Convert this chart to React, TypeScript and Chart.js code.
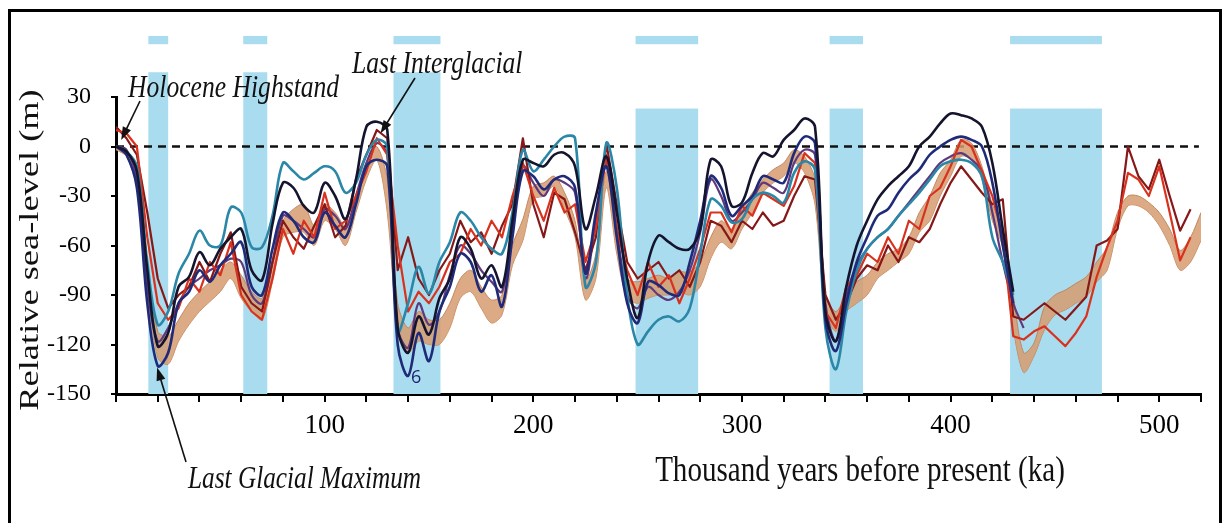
import React, { useEffect, useRef } from "react";
import { Chart, registerables } from "chart.js";
Chart.register(...registerables);

// Age grid (ka)
const AGES = [
  0, 5, 10, 15, 20, 25, 30, 35, 40, 45,
  50, 55, 60, 65, 70, 75, 80, 85, 90, 95,
  100, 105, 110, 115, 120, 125, 130, 135, 140, 145,
  150, 155, 160, 165, 170, 175, 180, 185, 190, 195,
  200, 205, 210, 215, 220, 225, 230, 235, 240, 245,
  250, 255, 260, 265, 270, 275, 280, 285, 290, 295,
  300, 305, 310, 315, 320, 325, 330, 335, 340, 345,
  350, 355, 360, 365, 370, 375, 380, 385, 390, 395,
  400, 405, 410, 415, 420, 425, 430, 435, 440, 445,
  450, 455, 460, 465, 470, 475, 480, 485, 490, 495,
  500, 505, 510, 515, 520,
];

const N = null;

const BLACK_SERIES = [
  0, -3, -15, -75, -121, -113, -85, -79, -64, -72,
  -62, -55, -50, -75, -81, -47, -22, -25, -36, -40,
  -22, -30, -44, -20, 12, 15, 10, -110, -125, -103,
  -114, -92, -80, -55, -62, -80, -72, -85, -45, -8,
  -10, -12, -5, -4, -12, -50, -30, -6, -40, -80,
  -104, -70, -54, -58, -62, -62, -50, -8, -12, -36,
  -34, -16, -4, -6, 4, 10, 17, 12, -100, -118,
  -85, -60, -45, -32, -24, -18, -12, 0, 6, 14,
  20, 19, 17, 12, -10, -50, -88, N, N, N,
  N, N, N, N, N, N, N, N, N, N,
  N, N, N, N, N,
];

const NAVY_SERIES = [
  0, -5, -25, -95, -133, -125, -95, -88, -75, -82,
  -72, -65, -58, -85, -90, -62, -40, -45, -55, -58,
  -40, -48, -55, -35, -12, -8, -12, -120, -139, -113,
  -130, -100, -85, -65, -70, -88, -78, -97, -55, -15,
  -18, -26, -20, -18, -25, -77, -40, -12, -55, -95,
  -107, -82, -84, -89, -90, -70, -45, -18, -25, -42,
  -36, -30, -18, -20, -22, -4, 6, 2, -105, -124,
  -95, -70, -55, -42, -38, -28, -20, -14, -5, 0,
  4, 6, 4, 0, -22, -60, -95, N, N, N,
  N, N, N, N, N, N, N, N, N, N,
  N, N, N, N, N,
];

const TEAL_SERIES = [
  0, -3, -12, -70, -108, -100, -77, -65, -51, -60,
  -60, -37, -40, -61, -61, -42, -10, -15, -20, -16,
  -12, -15, -28, -22, -5, 4, 0, -112, -95, -73,
  -89, -70, -58, -40, -45, -55, -62, -65, -40, -2,
  -15, -8, 0, 6, 5, -85, -70, 2, -25, -90,
  -120, -112, -105, -103, -106, -98, -65, -32, -36, -46,
  -44, -32, -28, -30, -34, -16, -9, -14, -110, -135,
  -100, -75, -62, -55, -50, -42, -35, -28, -20, -12,
  -9, -8, -10, -18, -55, -70, -90, N, N, N,
  N, N, N, N, N, N, N, N, N, N,
  N, N, N, N, N,
];

const PURPLE_SERIES = [
  0, -2, -20, -85, -118, -110, -95, -85, -80, -75,
  -72, -68, -70, -90, -95, -70, -42, -45, -50, -55,
  -38, -42, -50, -30, -10, 2, -5, -110, -122, -95,
  -108, -100, -78, -60, -65, -75, -82, -88, -50, -12,
  -22, -30, -20, -22, -28, -80, -45, -10, -50, -90,
  -98, -85, -90, -93, -88, -75, -52, -20, -30, -45,
  -40, -32, -22, -25, -28, -10, -2, -5, -95, -118,
  -90, -72, -62, -55, -50, -42, -34, -26, -18, -10,
  -6, -4, -8, -15, -40, -70, -95, -110, N, N,
  N, N, N, N, N, N, N, N, N, N,
  N, N, N, N, N,
];

const RED_SERIES = [
  10, 8, 0, -55, -95, -105, -98, -80, -88, -70,
  -78, -58, -90, -100, -105, -80, -50, -65, -45, -55,
  -28, -50, -45, -30, -15, 5, -5, -60, -100, -88,
  -95, -85, -70, -65, -50, -60, -45, -55, -30, -10,
  -30, -45, -25, -40, -35, -70, -50, -5, -50, -75,
  -90, -70, -85, -78, -95, -80, -62, -40, -40, -52,
  -36, -42, -28, -32, -36, -24, -4, -10, -100, -110,
  -85, -78, -65, -70, -55, -65, -45, -50, -30, -25,
  -12, 4, 0, -15, -30, -55, -115, -117, -112, -109,
  -115, -121, -113, -103, -79, -61, -45, -16, -20, -30,
  -12, -40, -69, -55, N,
];

const DARKRED_SERIES = [
  12, 5, -5, -40, -80, -98, -90, -85, -70, -82,
  -65, -52, -85, -95, -100, -70, -45, -55, -62, -48,
  -35, -55, -48, -20, -5, 10, 5, -75, -55, -80,
  -90, -75, -65, -45, -58, -52, -65, -48, -35, 5,
  -35, -55, -28, -32, -52, -75, -55, 2, -35, -70,
  -80, -75, -70, -80, -75, -85, -70, -45, -48, -58,
  -45, -50, -40, -48, -45, -30, -18, -20, -90, -105,
  -95, -80, -72, -75, -60, -70, -55, -58, -50, -35,
  -22, -12, -20, -28, -35, -32, -103, -105, -100, -95,
  -100, -105, -98, -91, -60, -57, -50, 0, -18, -26,
  -8, -30, -51, -38, N,
];

const TAN_UPPER = [
  0, -2, -15, -70, -112, -115, -105, -95, -88, -82,
  -75, -70, -78, -88, -92, -70, -45, -38, -35, -48,
  -35, -40, -48, -30, -10, 0, -20, -95, -110, -100,
  -105, -105, -95, -80, -75, -85, -93, -90, -60, -44,
  -24, -22, -18, -28, -45, -81, -65, -15, -55, -80,
  -82, -80, -78, -80, -76, -76, -70, -55, -45, -50,
  -38, -28, -20, -14, -10, -2, -6, -20, -90, -100,
  -90, -82, -78, -70, -65, -62, -55, -40, -30, -16,
  -8, 4, 2, -12, -35, -50, -90, -125, -119, -97,
  -90, -87, -83, -79, -70, -61, -40, -30, -30, -34,
  -40, -50, -63, -55, -40,
];

const TAN_LOWER = [
  -2, -6, -25, -85, -128, -132, -118, -108, -100, -94,
  -88, -80, -92, -100, -105, -82, -55, -52, -52, -60,
  -45, -50, -60, -40, -20, -8, -40, -110, -125, -118,
  -120, -120, -110, -92, -88, -98, -107, -102, -72, -57,
  -32, -30, -24, -38, -55, -93, -80, -25, -65, -92,
  -95, -92, -90, -90, -88, -90, -85, -68, -58, -62,
  -50, -40, -28, -22, -18, -10, -16, -35, -100, -112,
  -100, -95, -90, -80, -75, -70, -65, -52, -45, -30,
  -18, -6, -8, -20, -45, -61, -110, -137, -127, -111,
  -102, -99, -95, -91, -82, -75, -50, -36, -36, -40,
  -48, -60, -75, -70, -57,
];

// Glacial periods (shaded), ka
const BAND_START = [15.5, 61, 133, 249, 342, 428.5];
const BAND_END = [25, 72.5, 155.5, 279, 358, 472.5];

// Present-day sea level reference line
const ZERO_AGES = [0, 519];
const ZERO_LEVEL = [0, 0];

const X_LABELLED = [100, 200, 300, 400, 500];

const SERIF = '"Liberation Serif", "Times New Roman", serif';

function pts(vals: (number | null)[]) {
  return AGES.map((a, i) => ({ x: a, y: vals[i] }));
}

function stretchedText(
  ctx: CanvasRenderingContext2D,
  text: string,
  x: number,
  y: number,
  font: string,
  sx: number,
  align: CanvasTextAlign,
  baseline: CanvasTextBaseline,
  rotate = 0
) {
  ctx.save();
  ctx.translate(x, y);
  if (rotate) ctx.rotate(rotate);
  ctx.scale(sx, 1);
  ctx.font = font;
  ctx.textAlign = align;
  ctx.textBaseline = baseline;
  ctx.fillText(text, 0, 0);
  ctx.restore();
}

function arrow(ctx: CanvasRenderingContext2D, x0: number, y0: number, x1: number, y1: number) {
  const a = Math.atan2(y1 - y0, x1 - x0);
  const c = Math.cos(a), s = Math.sin(a);
  ctx.beginPath();
  ctx.moveTo(x0, y0);
  ctx.lineTo(x1 - 8 * c, y1 - 8 * s);
  ctx.stroke();
  ctx.beginPath();
  ctx.moveTo(x1, y1);
  ctx.lineTo(x1 - 13 * c + 4.5 * s, y1 - 13 * s - 4.5 * c);
  ctx.lineTo(x1 - 13 * c - 4.5 * s, y1 - 13 * s + 4.5 * c);
  ctx.closePath();
  ctx.fill();
}

const bandPlugin = {
  id: "glacialBands",
  beforeDatasetsDraw(chart: any) {
    const { ctx, chartArea } = chart;
    const xs = chart.scales.x, ys = chart.scales.y;
    ctx.save();
    ctx.fillStyle = "#a9dcef";
    BAND_START.forEach((s, i) => {
      const x0 = xs.getPixelForValue(s);
      const x1 = xs.getPixelForValue(BAND_END[i]);
      const top = ys.getPixelForValue(i < 3 ? 45 : 23);
      ctx.fillRect(x0, top, x1 - x0, chartArea.bottom - top);
      const st = ys.getPixelForValue(67);
      const sb = ys.getPixelForValue(62);
      ctx.fillRect(x0, st, x1 - x0, sb - st);
    });
    ctx.restore();
  },
};

const annotationPlugin = {
  id: "annotations",
  afterDraw(chart: any) {
    const { ctx } = chart;
    const xs = chart.scales.x, ys = chart.scales.y;
    ctx.save();
    ctx.fillStyle = "#111";
    ctx.strokeStyle = "#111";
    ctx.lineWidth = 1.6;

    const ital = `italic 32px ${SERIF}`;
    stretchedText(ctx, "Holocene Highstand", 128, 97, ital, 0.8, "left", "alphabetic");
    stretchedText(ctx, "Last Interglacial", 352, 73, ital, 0.8, "left", "alphabetic");
    stretchedText(ctx, "Last Glacial Maximum", 188, 488, ital, 0.79, "left", "alphabetic");

    arrow(ctx, 140, 101, xs.getPixelForValue(2.5), ys.getPixelForValue(4));
    arrow(ctx, 415, 78, xs.getPixelForValue(126.8), ys.getPixelForValue(8));
    arrow(ctx, 186, 462, xs.getPixelForValue(19.7), ys.getPixelForValue(-134));

    // axis titles
    stretchedText(ctx, "Thousand years before present (ka)", 860, 481, `35px ${SERIF}`, 0.83, "center", "alphabetic");
    stretchedText(ctx, "Relative sea-level (m)", 38, 250, `28px ${SERIF}`, 1.3, "center", "alphabetic", -Math.PI / 2);

    // MIS 6 label
    ctx.fillStyle = "#1d2570";
    ctx.font = '18px "Open Sans", "DejaVu Sans", sans-serif';
    ctx.textAlign = "center";
    ctx.textBaseline = "middle";
    ctx.fillText("6", xs.getPixelForValue(143.8), ys.getPixelForValue(-140));

    // frame
    ctx.strokeStyle = "#000";
    ctx.lineWidth = 3;
    ctx.strokeRect(9.5, 10.5, 1211, 560);
    ctx.restore();
  },
};

export default function App() {
  const ref = useRef<HTMLCanvasElement | null>(null);

  useEffect(() => {
    if (!ref.current) return;
    const line = (label: string, vals: (number | null)[], color: string, width: number, tension: number, order: number) => ({
      label,
      data: pts(vals),
      borderColor: color,
      backgroundColor: color,
      borderWidth: width,
      pointRadius: 0,
      tension,
      borderJoinStyle: "round" as const,
      fill: false,
      order,
    });

    const chart = new Chart(ref.current, {
      type: "line",
      data: {
        datasets: [
          line("Model A", BLACK_SERIES, "#14142e", 2.6, 0.35, 1),
          line("Model B", NAVY_SERIES, "#1f2a78", 2.6, 0.35, 2),
          line("Model C", TEAL_SERIES, "#2a87a8", 2.6, 0.35, 3),
          line("Record 1", RED_SERIES, "#d8321e", 2.2, 0, 4),
          line("Record 2", DARKRED_SERIES, "#861818", 2.2, 0, 5),
          line("Model D", PURPLE_SERIES, "#5e3a7c", 2.2, 0.35, 6),
          {
            label: "Envelope low",
            data: pts(TAN_LOWER),
            borderColor: "rgba(190,130,90,0.9)",
            borderWidth: 1,
            pointRadius: 0,
            tension: 0.3,
            fill: false,
            order: 8,
          },
          {
            label: "Envelope high",
            data: pts(TAN_UPPER),
            borderColor: "rgba(190,130,90,0.9)",
            backgroundColor: "rgba(214,155,110,0.85)",
            borderWidth: 1,
            pointRadius: 0,
            tension: 0.3,
            fill: "-1",
            order: 7,
          },
          {
            label: "Present",
            data: ZERO_AGES.map((a, i) => ({ x: a, y: ZERO_LEVEL[i] })),
            borderColor: "#111",
            borderWidth: 2.5,
            borderDash: [8, 6],
            pointRadius: 0,
            fill: false,
            order: 9,
          },
        ],
      },
      options: {
        responsive: false,
        animation: false,
        events: [],
        layout: { padding: { left: 0, top: 97, right: 22, bottom: 0 } },
        plugins: { legend: { display: false }, tooltip: { enabled: false } },
        scales: {
          x: {
            type: "linear",
            min: 0,
            max: 520,
            z: 1,
            afterFit: (s: any) => { s.height = 129; },
            border: { color: "#000", width: 3 },
            grid: { drawOnChartArea: false, drawTicks: true, tickLength: 8, color: "#000", lineWidth: 2 },
            ticks: {
              stepSize: 20,
              autoSkip: false,
              maxRotation: 0,
              padding: 8,
              color: "#000",
              font: { family: SERIF, size: 27 },
              callback: (v: any) => (X_LABELLED.includes(Number(v)) ? String(v) : ""),
            },
          },
          y: {
            min: -150,
            max: 30,
            z: 1,
            afterFit: (s: any) => { s.width = 116; },
            border: { color: "#000", width: 3 },
            grid: { drawOnChartArea: false, drawTicks: true, tickLength: 5, color: "#000", lineWidth: 2 },
            ticks: {
              stepSize: 30,
              padding: 20,
              color: "#000",
              font: { family: SERIF, size: 24 },
            },
          },
        },
      },
      plugins: [bandPlugin, annotationPlugin],
    } as any);
    return () => chart.destroy();
  }, []);

  return (
    <div style={{ position: "fixed", left: 0, top: 0, width: 1223, height: 523, background: "#fff" }}>
      <canvas ref={ref} width={1223} height={523} style={{ width: 1223, height: 523, display: "block" }} />
    </div>
  );
}
